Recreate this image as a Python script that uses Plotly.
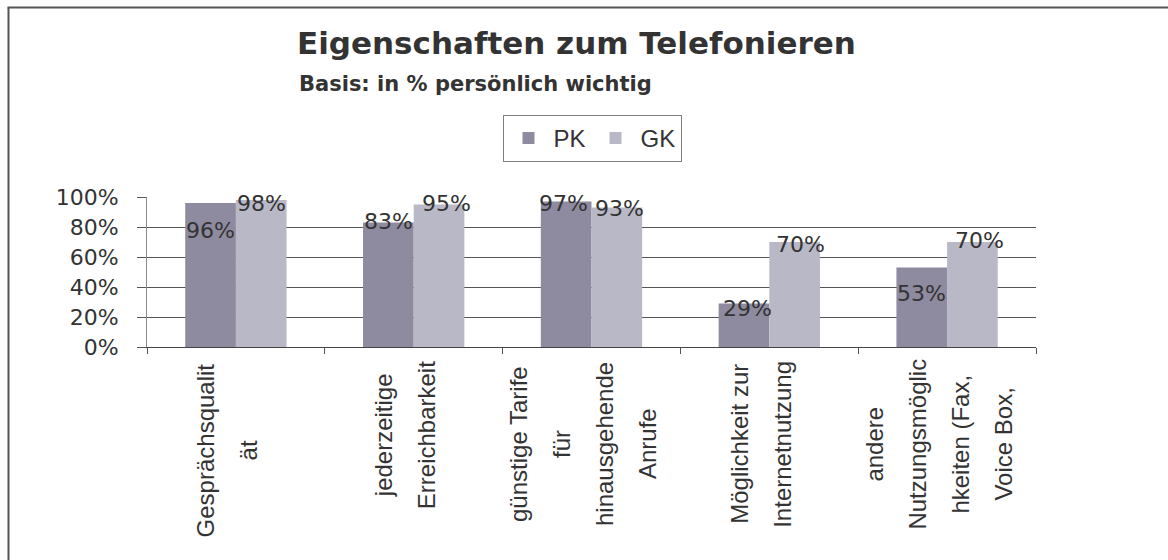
import plotly.graph_objects as go

# ---- data ----
category_lines = [
    ["Gesprächsqualit", "ät"],
    ["jederzeitige", "Erreichbarkeit"],
    ["günstige Tarife", "für", "hinausgehende", "Anrufe"],
    ["Möglichkeit zur", "Internetnutzung"],
    ["andere", "Nutzungsmöglic", "hkeiten (Fax,", "Voice Box,"],
]
categories = [" ".join(l) for l in category_lines]
series_names = ["PK", "GK"]
pk_values = [96, 83, 97, 29, 53]
gk_values = [98, 95, 93, 70, 70]
y_ticks = [0, 20, 40, 60, 80, 100]

# ---- style ----
W, H = 1168, 560
L, R, T, B = 147, 132, 197, 213
plot_w = W - L - R
plot_h = H - T - B
colors = {"PK": "#8e8a9f", "GK": "#b9b8c7"}
text_color = "#333333"
BARGAP = 0.43

# per-label fine offsets (px) mimicking the reference label placement
label_dy = {"PK": [27, -1, 2, 5, 26], "GK": [3, -1, 1, 2, -2]}
label_dx = {"PK": [0, 0, -3, 4, 0], "GK": [0, 7, 3, 6, 7]}
cat_label_center_px = [450, 435, 444, 444, 444]
line_spacing_px = 43
line_offset_px = -9

def px_to_paper_x(px):
    return (px - L) / plot_w

def px_to_paper_y(py):
    return (H - B - py) / plot_h

fig = go.Figure()
for name, vals in zip(series_names, [pk_values, gk_values]):
    fig.add_trace(go.Bar(
        name=name, x=categories, y=vals,
        marker=dict(color=colors[name], line=dict(width=0)),
        hoverinfo="x+y",
    ))

annotations = []
# data labels
half = (1 - BARGAP) / 4
for s, (name, vals) in enumerate(zip(series_names, [pk_values, gk_values])):
    sign = -1 if s == 0 else 1
    for i, v in enumerate(vals):
        annotations.append(dict(
            x=i + sign * half, y=v, xref="x", yref="y",
            text=f"{v}%", showarrow=False,
            xanchor="center", yanchor="middle",
            xshift=label_dx[name][i], yshift=-label_dy[name][i],
            font=dict(family="DejaVu Sans", size=22, color=text_color),
        ))

# category labels (rotated, one annotation per line)
for i, lines in enumerate(category_lines):
    n = len(lines)
    for k, line in enumerate(lines):
        annotations.append(dict(
            x=i, y=px_to_paper_y(cat_label_center_px[i]), xref="x", yref="paper",
            text=line, showarrow=False, textangle=-90,
            xanchor="center", yanchor="middle",
            xshift=line_offset_px + (k - (n - 1) / 2) * line_spacing_px,
            font=dict(family="Liberation Sans", size=24, color=text_color),
        ))

# subtitle
annotations.append(dict(
    x=px_to_paper_x(297), y=px_to_paper_y(84), xref="paper", yref="paper",
    text="<b>Basis: in % persönlich wichtig</b>", showarrow=False,
    xanchor="left", yanchor="middle",
    font=dict(family="DejaVu Sans", size=21, color=text_color),
))

border = dict(color="#555555", width=2)

fig.update_layout(
    width=W, height=H, autosize=False,
    margin=dict(l=L, r=R, t=T, b=B, pad=0),
    paper_bgcolor="white", plot_bgcolor="white",
    barmode="group", bargap=BARGAP, bargroupgap=0,
    title=dict(
        text="<b>Eigenschaften zum Telefonieren</b>",
        x=297 / W, xanchor="left", xref="container",
        y=1 - 43 / H, yanchor="middle", yref="container",
        font=dict(family="DejaVu Sans", size=31, color=text_color),
    ),
    legend=dict(
        orientation="h", x=px_to_paper_x(592), xanchor="center",
        y=px_to_paper_y(115), yanchor="top",
        bordercolor="#7f7f7f", borderwidth=1, bgcolor="white",
        font=dict(family="Liberation Sans", size=24, color=text_color),
        itemwidth=40, traceorder="normal",
    ),
    xaxis=dict(
        type="category", categoryorder="array", categoryarray=categories,
        range=[-0.5, len(categories) - 0.5],
        showticklabels=False,
        showline=True, linecolor="#444444", linewidth=1,
        ticks="outside", ticklen=6, tickcolor="#555555", tickson="boundaries",
        showgrid=False, zeroline=False, fixedrange=True,
    ),
    yaxis=dict(
        range=[0, 100], tickmode="array", tickvals=y_ticks,
        ticktext=[f"{t}%" for t in y_ticks],
        showline=True, linecolor="#8a8a8a", linewidth=1,
        ticks="outside", ticklen=9, tickcolor="#555555",
        showgrid=True, gridcolor="#555555", gridwidth=1,
        zeroline=False, ticklabelstandoff=14,
        tickfont=dict(family="DejaVu Sans", size=22, color=text_color),
        fixedrange=True,
    ),
    annotations=annotations,
    shapes=[
        dict(type="line", xref="paper", yref="paper",
             x0=px_to_paper_x(8.5), x1=px_to_paper_x(8.5),
             y0=px_to_paper_y(7.5), y1=px_to_paper_y(600), line=border),
        dict(type="line", xref="paper", yref="paper",
             x0=px_to_paper_x(7.5), x1=px_to_paper_x(1300),
             y0=px_to_paper_y(7.5), y1=px_to_paper_y(7.5), line=border),
    ],
    showlegend=True,
)

fig.write_html(
    "out.html",
    config={"displayModeBar": False},
    post_script="document.body.style.margin='0';document.body.style.overflow='hidden';",
)
